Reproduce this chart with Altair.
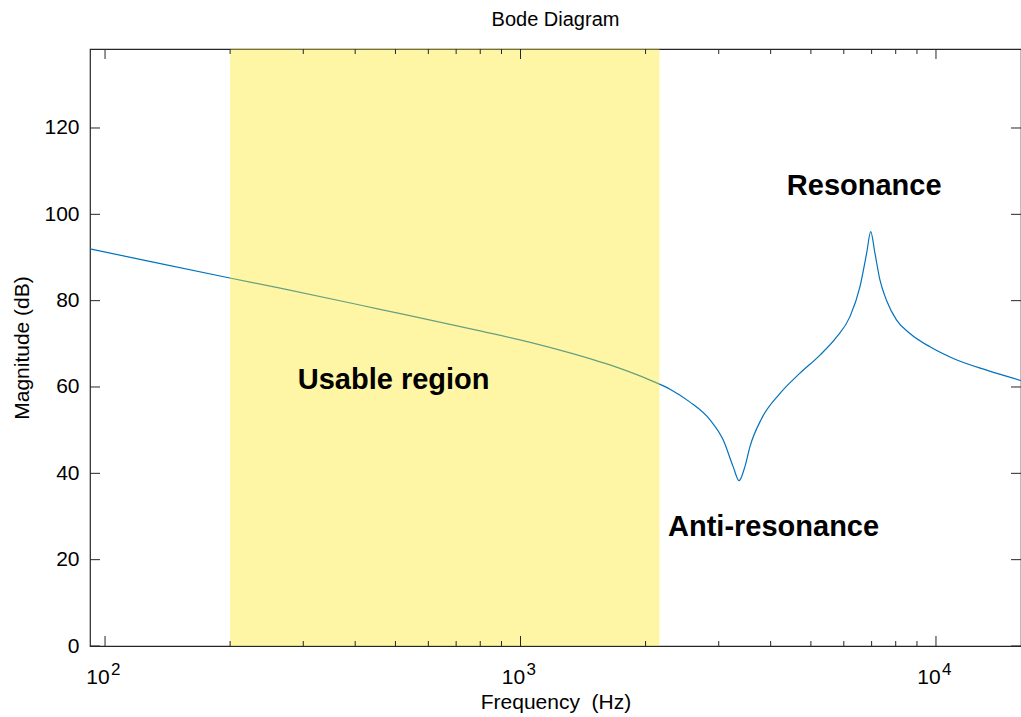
import altair as alt
import pandas as pd

# ---- data ----
freq_hz = [92, 128, 201, 264, 459, 799, 1050, 1315, 1736, 2050, 2290, 2559, 2858, 3076,
           3251, 3357, 3467, 3567, 3806, 4213, 4707, 5258, 5768, 6209, 6561, 6810,
           6965, 7130, 7330, 7600, 8040, 8657, 9674, 11006, 13243, 16020]
mag_db = [92.0, 89.1, 85.2, 82.9, 78.0, 73.0, 70.4, 67.9, 64.3, 61.6, 59.5, 56.5, 52.4, 47.7,
          41.5, 38.3, 41.5, 46.2, 52.7, 58.5, 63.2, 67.4, 71.6, 76.3, 83.2, 91.0,
          96.0, 91.0, 84.8, 80.1, 75.5, 72.4, 69.3, 66.6, 63.9, 61.5]

region_start_hz = [200]
region_end_hz = [2160]

x_major = [100, 1000, 10000]
x_minor = [200, 300, 400, 500, 600, 700, 800, 900,
           2000, 3000, 4000, 5000, 6000, 7000, 8000, 9000]
x_base_labels = ["10", "10", "10"]
x_exponents = ["2", "3", "4"]
y_major = [0, 20, 40, 60, 80, 100, 120]

annot_text = ["Usable region", "Resonance", "Anti-resonance"]
annot_f = [291, 4375, 2265]
annot_db = [61.6, 106.6, 27.6]

chart_title = ["Bode Diagram"]

X_DOMAIN = [92.0, 16020]
Y_DOMAIN = [0, 138.3]
W, H = 931, 597
FONT = "Liberation Sans"
AX = "#262626"

curve = pd.DataFrame({"f": freq_hz, "db": mag_db})
region = pd.DataFrame({"f0": region_start_hz, "f1": region_end_hz})
xmaj = pd.DataFrame({"f": x_major, "base": x_base_labels, "exp": x_exponents})
xmin = pd.DataFrame({"f": x_minor})
ymaj = pd.DataFrame({"v": y_major})
annots = pd.DataFrame({"t": annot_text, "f": annot_f, "db": annot_db})
titles = pd.DataFrame({"t": chart_title})

xs = alt.Scale(type="log", domain=X_DOMAIN, nice=False)
ys = alt.Scale(domain=Y_DOMAIN, nice=False, zero=False)

xaxis = alt.Axis(
    title="Frequency\u00a0\u00a0(Hz)", labels=False, ticks=False, tickSize=0, domain=False,
    grid=False, titleFont=FONT, titleFontSize=21, titleFontWeight="normal",
    titleColor="#000", titleY=62, titleBaseline="alphabetic")
yaxis = alt.Axis(
    title="Magnitude (dB)", values=y_major, labelFont=FONT, labelFontSize=21,
    labelColor="#000", labelPadding=11, ticks=False, tickSize=0, domain=False, grid=False,
    titleFont=FONT, titleFontSize=21, titleFontWeight="normal", titleColor="#000",
    titleX=-62, titleY=H / 2, titleAngle=270, titleBaseline="alphabetic",
    titleAlign="center")


def X(field):
    return alt.X(field, scale=xs, axis=xaxis)


def Y(field):
    return alt.Y(field, scale=ys, axis=yaxis)


line = alt.Chart(curve).mark_line(color="#0072BD", strokeWidth=1.2, interpolate="monotone").encode(
    x=X("f:Q"), y=Y("db:Q"))

rect = alt.Chart(region).mark_rect(color="#FFE81E", opacity=0.4).encode(
    x=X("f0:Q"), x2="f1:Q", y=alt.value(0), y2=alt.value(H))


def xticks(df, length, top):
    y0 = 0 if top else H
    y1 = length if top else H - length
    return alt.Chart(df).mark_rule(color=AX, strokeWidth=1).encode(
        x=X("f:Q"), y=alt.value(y0), y2=alt.value(y1))


def yticks(length, right):
    x0 = W if right else 0
    x1 = W - length if right else length
    return alt.Chart(ymaj).mark_rule(color=AX, strokeWidth=1).encode(
        y=Y("v:Q"), x=alt.value(x0), x2=alt.value(x1))


xlab_base = alt.Chart(xmaj).mark_text(
    font=FONT, fontSize=21, color="#000", align="center", baseline="alphabetic", dx=-7
).encode(x=X("f:Q"), y=alt.value(H + 38), text="base:N")

xlab_exp = alt.Chart(xmaj).mark_text(
    font=FONT, fontSize=17, color="#000", align="left", baseline="alphabetic", dx=6
).encode(x=X("f:Q"), y=alt.value(H + 29), text="exp:N")

texts = alt.Chart(annots).mark_text(
    font=FONT, fontSize=29, fontWeight="bold", color="#000", align="left", baseline="middle"
).encode(x=X("f:Q"), y=Y("db:Q"), text="t:N")

title = alt.Chart(titles).mark_text(
    font=FONT, fontSize=20, color="#000", align="center", baseline="alphabetic"
).encode(x=alt.value(W / 2), y=alt.value(-23), text="t:N")

chart = alt.layer(
    line, rect,
    xticks(xmaj, 10, False), xticks(xmaj, 10, True),
    xticks(xmin, 5, False), xticks(xmin, 5, True),
    yticks(10, False), yticks(10, True),
    xlab_base, xlab_exp, texts, title,
).properties(
    width=W, height=H,
    autosize=alt.AutoSizeParams(type="none"),
    padding={"left": 90, "top": 49, "right": 0, "bottom": 71},
    background="white",
).configure_view(stroke=AX, strokeWidth=1.2)

chart.save("out.html", embed_options={"renderer": "svg", "actions": False})
